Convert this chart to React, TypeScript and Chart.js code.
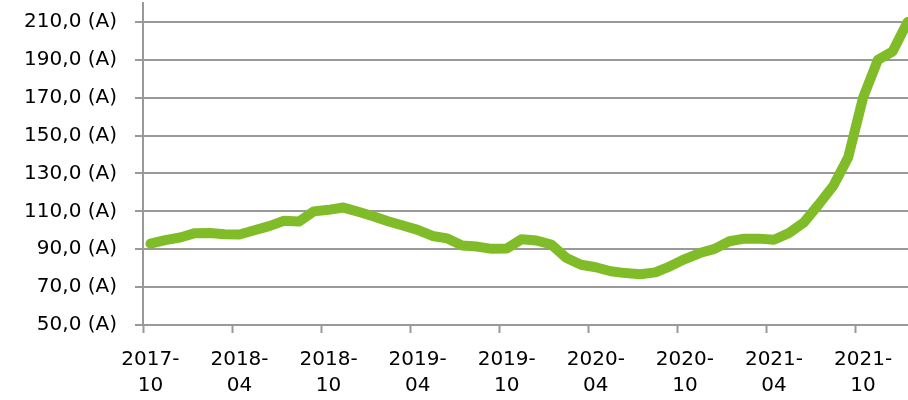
import React, { useEffect, useRef } from 'react';
import { Chart, registerables } from 'chart.js';

Chart.register(...registerables);

const months: string[] = [
  '2017-10', '2017-11', '2017-12',
  '2018-01', '2018-02', '2018-03', '2018-04', '2018-05', '2018-06', '2018-07', '2018-08', '2018-09', '2018-10', '2018-11', '2018-12',
  '2019-01', '2019-02', '2019-03', '2019-04', '2019-05', '2019-06', '2019-07', '2019-08', '2019-09', '2019-10', '2019-11', '2019-12',
  '2020-01', '2020-02', '2020-03', '2020-04', '2020-05', '2020-06', '2020-07', '2020-08', '2020-09', '2020-10', '2020-11', '2020-12',
  '2021-01', '2021-02', '2021-03', '2021-04', '2021-05', '2021-06', '2021-07', '2021-08', '2021-09', '2021-10', '2021-11', '2021-12',
  '2022-01',
];

const values: number[] = [
  93.0, 94.8, 96.2, 98.5, 98.6, 97.9, 97.8, 100.0, 102.2, 105.0, 104.6, 110.0, 110.8, 112.0, 109.8,
  107.4, 104.8, 102.5, 100.2, 97.0, 95.7, 92.0, 91.4, 90.2, 90.4, 95.3, 94.6,
  92.5, 85.5, 81.8, 80.5, 78.4, 77.4, 76.8, 77.8, 81.0, 84.8, 88.0, 90.2,
  94.2, 95.6, 95.6, 95.0, 98.5, 104.0, 113.5, 123.5, 138.5, 170.0, 190.0, 194.5,
  210.0,
];

const yTickValues: number[] = [50, 70, 90, 110, 130, 150, 170, 190, 210];
const yMin = 50;
const yMax = 220;
const labelEvery = 6;

const lineColor = '#80bc28';
const gridColor = '#999999';
const textColor = '#000000';
const fontFamily = '"DejaVu Sans", Verdana, sans-serif';

export default function App() {
  const canvasRef = useRef<HTMLCanvasElement | null>(null);

  useEffect(() => {
    if (!canvasRef.current) return;
    const chart = new Chart(canvasRef.current, {
      type: 'line',
      data: {
        labels: months,
        datasets: [
          {
            data: values,
            borderColor: lineColor,
            backgroundColor: lineColor,
            borderWidth: 10,
            borderCapStyle: 'round',
            borderJoinStyle: 'round',
            pointRadius: 0,
            pointHoverRadius: 0,
            tension: 0,
            fill: false,
          },
        ],
      },
      options: {
        animation: false,
        responsive: true,
        maintainAspectRatio: false,
        events: [],
        layout: { padding: { top: 3, right: 15, left: 0, bottom: 0 } },
        plugins: {
          legend: { display: false },
          tooltip: { enabled: false },
          title: { display: false },
        },
        scales: {
          x: {
            type: 'category',
            offset: true,
            grid: {
              display: true,
              drawOnChartArea: false,
              drawTicks: true,
              tickLength: 8,
              offset: true,
              tickWidth: 2,
              tickColor: (ctx: any) =>
                typeof ctx.index === 'number' && ctx.index % labelEvery === 0 ? gridColor : 'rgba(0,0,0,0)',
            },
            border: { display: true, color: gridColor, width: 2 },
            ticks: {
              autoSkip: false,
              maxRotation: 0,
              minRotation: 0,
              padding: 14,
              color: textColor,
              font: { family: fontFamily, size: 20, lineHeight: 1.3 },
              callback: (_v: any, index: number) => {
                if (index % labelEvery !== 0) return '';
                const [yy, mm] = months[index].split('-');
                return [yy + '-', mm];
              },
            },
            afterFit: (scale: any) => {
              scale.height = 75;
              scale.paddingLeft = 0;
              scale.paddingRight = 0;
            },
          },
          y: {
            type: 'linear',
            min: yMin,
            max: yMax,
            grid: {
              color: gridColor,
              lineWidth: 2,
              drawTicks: true,
              tickLength: 8,
            },
            border: { display: true, color: gridColor, width: 2 },
            ticks: {
              padding: 18,
              color: textColor,
              font: { family: fontFamily, size: 20 },
              callback: (v: any) => Number(v).toFixed(1).replace('.', ',') + ' (A)',
            },
            afterBuildTicks: (scale: any) => {
              scale.ticks = yTickValues.map((v) => ({ value: v }));
            },
            afterFit: (scale: any) => {
              scale.width = 143;
              scale.paddingTop = 0;
              scale.paddingBottom = 0;
            },
          },
        },
      },
    });
    return () => chart.destroy();
  }, []);

  return (
    <div style={{ position: 'fixed', left: 0, top: 0, width: 930, height: 400, background: '#ffffff' }}>
      <canvas ref={canvasRef} />
    </div>
  );
}
